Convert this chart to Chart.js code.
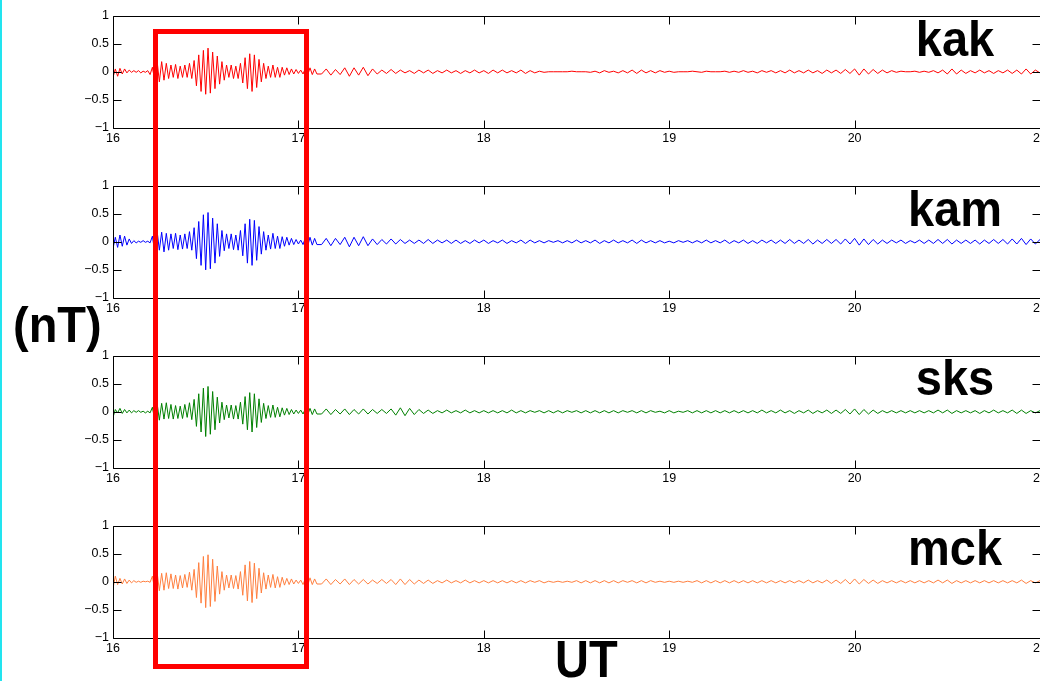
<!DOCTYPE html>
<html>
<head>
<meta charset="utf-8">
<script src="https://cdn.jsdelivr.net/npm/chart.js@4.4.1/dist/chart.umd.min.js"></script>
<style>
  html, body { margin:0; padding:0; background:#fff; width:1040px; height:681px; overflow:hidden; position:relative; }
  .panel { position:absolute; left:0; width:1080px; height:152px; }
  .lbl { position:absolute; font-family:"Liberation Sans", Arial, sans-serif; font-weight:bold; font-size:47px; line-height:47px; color:#000; white-space:nowrap; transform-origin:50% 85%; }
  #cyan { position:absolute; left:0; top:0; width:2px; height:681px; background:#22e4ef; }
  #box { position:absolute; left:153px; top:29px; width:156px; height:640px; border:5px solid #ff0000; box-sizing:border-box; }
</style>
</head>
<body>
<div id="cyan"></div>
<div class="panel" style="top:4px"><canvas id="c0" width="1080" height="152"></canvas></div>
<div class="panel" style="top:174px"><canvas id="c1" width="1080" height="152"></canvas></div>
<div class="panel" style="top:344px"><canvas id="c2" width="1080" height="152"></canvas></div>
<div class="panel" style="top:514px"><canvas id="c3" width="1080" height="152"></canvas></div>
<div id="box"></div>
<div class="lbl" style="left:955px; top:16px; transform:translateX(-50%) scaleY(1.08)">kak</div>
<div class="lbl" style="left:955px; top:186px; transform:translateX(-50%) scaleY(1.08)">kam</div>
<div class="lbl" style="left:955px; top:355px; transform:translateX(-50%) scaleY(1.08)">sks</div>
<div class="lbl" style="left:955px; top:525px; transform:translateX(-50%) scaleY(1.08)">mck</div>
<div class="lbl" style="left:13px; top:302px; transform:scaleY(1.08)">(nT)</div>
<div class="lbl" style="left:555px; top:637px; transform:scaleY(1.1)">UT</div>
<script>
// ---- data ----
const stations = ['kak', 'kam', 'sks', 'mck'];
const xTickValues = [16, 17, 18, 19, 20, 21];
const yTickValues = [-1, -0.5, 0, 0.5, 1];
// sampling of the traces (hours UT)
const activeStart = 16.0, activeStep = 0.0125;   // 16.0 .. 17.1
const quietStart = 17.1, quietStep = 0.025;      // 17.1 .. 21.0

const kakActive = [-0.10,0.05,-0.08,0.06,-0.04,0.05,-0.02,0.03,-0.01,0.02,
 -0.01,0.02,-0.02,0.01,-0.01,0.02,-0.05,0.08,-0.15,0.20,
 -0.18,0.18,-0.15,0.15,-0.12,0.12,-0.10,0.13,-0.12,0.10,
 -0.10,0.12,-0.10,0.15,-0.12,0.20,-0.25,0.30,-0.35,0.38,
 -0.40,0.42,-0.38,0.35,-0.30,0.28,-0.22,0.18,-0.15,0.12,
 -0.10,0.12,-0.12,0.10,-0.12,0.15,-0.20,0.25,-0.30,0.32,
 -0.35,0.30,-0.28,0.22,-0.18,0.15,-0.12,0.10,-0.10,0.12,
 -0.10,0.08,-0.10,0.08,-0.06,0.07,-0.05,0.05,-0.04,0.04,
 -0.03,0.03,-0.04,0.06,-0.06,0.07,-0.05,0.05,-0.04];
const kakQuiet = [0.05,-0.04,0.05,-0.06,0.04,-0.05,0.07,-0.08,0.07,-0.06,
 0.08,-0.07,0.05,-0.04,0.03,-0.03,0.04,-0.03,0.03,-0.02,
 0.02,-0.03,0.03,-0.02,0.03,-0.03,0.02,-0.02,0.03,-0.02,
 0.02,-0.03,0.02,-0.02,0.03,-0.02,0.02,-0.03,0.03,-0.02,
 0.03,-0.02,0.02,-0.02,0.03,-0.03,0.02,-0.02,0.01,-0.01,
 0.00,0.00,0.00,0.00,0.00,0.01,0.00,0.00,0.00,-0.01,
 0.01,-0.02,0.02,-0.01,0.01,-0.02,0.02,-0.02,0.03,-0.03,
 0.03,-0.02,0.02,-0.02,0.02,-0.01,0.01,-0.01,0.00,0.00,
 0.00,0.01,0.00,-0.01,0.01,0.00,0.00,0.00,0.01,-0.01,
 0.01,-0.01,0.02,-0.01,0.01,-0.02,0.02,-0.01,0.02,-0.02,
 0.02,-0.02,0.03,-0.02,0.02,-0.02,0.03,-0.02,0.02,-0.03,
 0.03,-0.02,0.03,-0.03,0.04,-0.03,0.05,-0.06,0.05,-0.04,
 0.04,-0.03,0.03,-0.02,0.02,-0.01,0.01,0.00,0.00,0.01,
 -0.01,0.01,-0.01,0.02,-0.02,0.03,-0.04,0.05,-0.04,0.03,
 -0.03,0.02,-0.02,0.03,-0.02,0.02,-0.03,0.02,-0.02,0.03,
 -0.03,0.03,-0.04,0.05,-0.04,0.03,-0.02];

const kamActive = [-0.12,0.08,-0.10,0.12,-0.08,0.10,-0.06,0.05,-0.03,0.02,
 -0.02,0.01,-0.01,0.02,-0.01,0.01,-0.02,0.10,-0.18,0.20,
 -0.15,0.17,-0.18,0.15,-0.15,0.14,-0.12,0.15,-0.14,0.12,
 -0.13,0.14,-0.12,0.18,-0.15,0.25,-0.30,0.36,-0.42,0.48,
 -0.50,0.52,-0.48,0.42,-0.38,0.32,-0.26,0.20,-0.16,0.14,
 -0.12,0.14,-0.14,0.12,-0.15,0.20,-0.25,0.32,-0.38,0.40,
 -0.42,0.38,-0.33,0.27,-0.22,0.18,-0.15,0.12,-0.13,0.15,
 -0.12,0.10,-0.12,0.09,-0.08,0.08,-0.06,0.06,-0.05,0.04,
 -0.04,0.03,-0.05,0.07,-0.08,0.08,-0.06,0.06,-0.05];
const kamQuiet = [0.06,-0.05,0.06,-0.07,0.06,-0.05,0.08,-0.09,0.08,-0.07,
 0.09,-0.07,0.05,-0.05,0.04,-0.04,0.05,-0.04,0.04,-0.03,
 0.03,-0.03,0.03,-0.03,0.04,-0.03,0.03,-0.02,0.03,-0.03,
 0.03,-0.03,0.02,-0.03,0.03,-0.02,0.03,-0.03,0.02,-0.02,
 0.03,-0.03,0.02,-0.02,0.03,-0.03,0.03,-0.02,0.02,-0.02,
 0.02,-0.01,0.02,-0.02,0.02,-0.02,0.03,-0.02,0.02,-0.02,
 0.03,-0.03,0.02,-0.02,0.03,-0.02,0.02,-0.02,0.03,-0.03,
 0.03,-0.02,0.02,-0.02,0.02,-0.02,0.01,-0.02,0.02,-0.01,
 0.02,-0.02,0.02,-0.02,0.03,-0.02,0.02,-0.02,0.03,-0.03,
 0.02,-0.02,0.03,-0.03,0.02,-0.03,0.03,-0.02,0.03,-0.03,
 0.03,-0.03,0.04,-0.03,0.03,-0.03,0.04,-0.04,0.03,-0.03,
 0.04,-0.03,0.04,-0.04,0.05,-0.04,0.06,-0.06,0.05,-0.05,
 0.04,-0.04,0.03,-0.03,0.03,-0.02,0.03,-0.03,0.02,-0.02,
 0.03,-0.03,0.03,-0.03,0.04,-0.03,0.04,-0.04,0.03,-0.03,
 0.03,-0.03,0.03,-0.04,0.03,-0.03,0.04,-0.03,0.04,-0.04,
 0.05,-0.04,0.06,-0.05,0.05,-0.04,0.04];

const sksActive = [-0.10,0.04,-0.02,0.06,-0.03,0.04,-0.02,0.03,-0.02,0.02,
 -0.01,0.02,-0.01,0.01,-0.02,0.01,-0.02,0.08,-0.14,0.16,
 -0.15,0.15,-0.13,0.16,-0.12,0.13,-0.13,0.11,-0.12,0.10,
 -0.12,0.13,-0.10,0.16,-0.14,0.22,-0.26,0.32,-0.36,0.42,
 -0.44,0.45,-0.40,0.36,-0.32,0.26,-0.20,0.17,-0.14,0.12,
 -0.11,0.12,-0.13,0.11,-0.13,0.17,-0.22,0.27,-0.32,0.34,
 -0.36,0.32,-0.28,0.23,-0.19,0.15,-0.12,0.11,-0.10,0.12,
 -0.10,0.08,-0.09,0.07,-0.06,0.06,-0.05,0.04,-0.04,0.03,
 -0.03,0.03,-0.04,0.05,-0.06,0.06,-0.05,0.05,-0.04];
const sksQuiet = [0.05,-0.04,0.05,-0.05,0.04,-0.04,0.05,-0.05,0.04,-0.04,
 0.05,-0.04,0.04,-0.03,0.04,-0.03,0.05,-0.06,0.07,-0.07,
 0.06,-0.05,0.04,-0.03,0.03,-0.03,0.02,-0.02,0.03,-0.02,
 0.02,-0.02,0.03,-0.02,0.02,-0.02,0.02,-0.02,0.02,-0.02,
 0.02,-0.02,0.03,-0.02,0.02,-0.02,0.02,-0.01,0.02,-0.02,
 0.02,-0.02,0.02,-0.02,0.02,-0.01,0.02,-0.02,0.02,-0.02,
 0.02,-0.02,0.02,-0.02,0.02,-0.02,0.02,-0.01,0.02,-0.02,
 0.02,-0.02,0.02,-0.01,0.01,-0.02,0.02,-0.02,0.01,-0.01,
 0.02,-0.02,0.02,-0.02,0.02,-0.02,0.02,-0.02,0.02,-0.02,
 0.02,-0.02,0.02,-0.02,0.02,-0.02,0.03,-0.02,0.02,-0.02,
 0.03,-0.02,0.02,-0.03,0.02,-0.02,0.03,-0.03,0.02,-0.02,
 0.03,-0.03,0.03,-0.03,0.04,-0.04,0.05,-0.05,0.04,-0.04,
 0.03,-0.03,0.02,-0.02,0.02,-0.02,0.02,-0.02,0.02,-0.02,
 0.02,-0.02,0.02,-0.02,0.03,-0.02,0.03,-0.03,0.02,-0.02,
 0.02,-0.02,0.02,-0.03,0.02,-0.02,0.03,-0.02,0.02,-0.02,
 0.03,-0.03,0.03,-0.03,0.02,-0.02,0.02];

const mckActive = [-0.12,0.10,-0.05,0.06,-0.04,0.05,-0.03,0.03,-0.02,0.02,
 -0.01,0.01,-0.01,0.01,0.00,0.01,-0.01,0.10,-0.15,0.18,
 -0.16,0.15,-0.15,0.16,-0.12,0.14,-0.12,0.12,-0.13,0.11,
 -0.11,0.13,-0.10,0.17,-0.15,0.22,-0.28,0.34,-0.38,0.45,
 -0.46,0.48,-0.44,0.40,-0.35,0.28,-0.22,0.18,-0.15,0.12,
 -0.11,0.12,-0.12,0.11,-0.13,0.18,-0.24,0.30,-0.34,0.36,
 -0.37,0.33,-0.30,0.24,-0.20,0.16,-0.13,0.12,-0.10,0.13,
 -0.11,0.09,-0.10,0.08,-0.06,0.06,-0.05,0.05,-0.04,0.03,
 -0.03,0.03,-0.05,0.06,-0.07,0.07,-0.05,0.05,-0.04];
const mckQuiet = [0.05,-0.04,0.05,-0.05,0.04,-0.04,0.05,-0.05,0.04,-0.04,
 0.04,-0.04,0.03,-0.03,0.04,-0.03,0.04,-0.05,0.05,-0.05,
 0.04,-0.04,0.03,-0.03,0.03,-0.03,0.02,-0.02,0.03,-0.02,
 0.02,-0.02,0.03,-0.02,0.02,-0.02,0.02,-0.02,0.02,-0.02,
 0.02,-0.02,0.02,-0.02,0.02,-0.02,0.02,-0.01,0.02,-0.02,
 0.01,-0.01,0.01,-0.01,0.01,-0.01,0.02,-0.02,0.02,-0.02,
 0.02,-0.02,0.02,-0.02,0.02,-0.02,0.02,-0.01,0.02,-0.02,
 0.02,-0.02,0.02,-0.01,0.01,-0.01,0.01,-0.01,0.01,-0.01,
 0.01,-0.01,0.02,-0.02,0.02,-0.02,0.02,-0.02,0.02,-0.02,
 0.02,-0.02,0.02,-0.02,0.02,-0.02,0.02,-0.02,0.02,-0.02,
 0.02,-0.02,0.02,-0.02,0.02,-0.02,0.03,-0.02,0.02,-0.02,
 0.03,-0.03,0.03,-0.03,0.04,-0.04,0.05,-0.04,0.04,-0.03,
 0.03,-0.03,0.02,-0.02,0.02,-0.02,0.02,-0.02,0.02,-0.02,
 0.02,-0.02,0.02,-0.02,0.03,-0.02,0.03,-0.03,0.02,-0.02,
 0.02,-0.02,0.02,-0.02,0.02,-0.02,0.02,-0.02,0.02,-0.02,
 0.02,-0.02,0.03,-0.03,0.02,-0.02,0.02];

const seriesActive = [kakActive, kamActive, sksActive, mckActive];
const seriesQuiet = [kakQuiet, kamQuiet, sksQuiet, mckQuiet];
const seriesColors = ['#ff0000', '#0000ff', '#008000', '#ff7f3f'];

// ---- build points (x from the sampling grid, y from the arrays) ----
function buildPoints(active, quiet) {
  const pts = [];
  active.forEach((v, i) => pts.push({ x: activeStart + i * activeStep, y: v }));
  quiet.forEach((v, j) => { if (j > 0) pts.push({ x: quietStart + j * quietStep, y: v }); });
  return pts;
}

const tickFont = { family: '"Liberation Sans", Arial, sans-serif', size: 12.5 };
const fmt = v => (v < 0 ? '\u2212' + Math.abs(v) : String(v));

const framePlugin = {
  id: 'matlabFrame',
  afterDraw(chart) {
    const { ctx, chartArea: a, scales } = chart;
    const L = 8;
    ctx.save();
    ctx.strokeStyle = '#000';
    ctx.lineWidth = 1;
    ctx.beginPath();
    const l = Math.round(a.left) + 0.5, r = Math.round(a.right) + 0.5;
    const t = Math.round(a.top) + 0.5, b = Math.round(a.bottom) + 0.5;
    ctx.moveTo(l, t); ctx.lineTo(r, t); ctx.lineTo(r, b); ctx.lineTo(l, b); ctx.closePath();
    xTickValues.forEach(v => {
      const px = Math.round(scales.x.getPixelForValue(v)) + 0.5;
      ctx.moveTo(px, b); ctx.lineTo(px, b - L);
      ctx.moveTo(px, t); ctx.lineTo(px, t + L);
    });
    yTickValues.forEach(v => {
      const py = Math.round(scales.y.getPixelForValue(v)) + 0.5;
      ctx.moveTo(l, py); ctx.lineTo(l + L, py);
      ctx.moveTo(r, py); ctx.lineTo(r - L, py);
    });
    ctx.stroke();
    ctx.restore();
  }
};

stations.forEach((name, k) => {
  new Chart(document.getElementById('c' + k), {
    type: 'line',
    data: {
      datasets: [{
        label: name,
        data: buildPoints(seriesActive[k], seriesQuiet[k]),
        borderColor: seriesColors[k],
        borderWidth: 1,
        pointRadius: 0,
        tension: 0,
        fill: false
      }]
    },
    options: {
      responsive: false,
      animation: false,
      devicePixelRatio: 1,
      layout: { padding: { top: 10, left: 0, right: 40, bottom: 0 } },
      plugins: { legend: { display: false }, tooltip: { enabled: false } },
      scales: {
        x: {
          type: 'linear', min: 16, max: 21,
          afterBuildTicks: s => { s.ticks = xTickValues.map(v => ({ value: v })); },
          afterFit: s => { s.height = 28; },
          grid: { display: false, drawTicks: false },
          border: { display: false },
          ticks: { padding: 3, color: '#000', font: tickFont, maxRotation: 0, autoSkip: false, callback: v => String(v) }
        },
        y: {
          type: 'linear', min: -1, max: 1,
          afterBuildTicks: s => { s.ticks = yTickValues.map(v => ({ value: v })); },
          afterFit: s => { s.width = 113; },
          grid: { display: false, drawTicks: false },
          border: { display: false },
          ticks: { padding: 4, color: '#000', font: tickFont, autoSkip: false, callback: fmt }
        }
      }
    },
    plugins: [framePlugin]
  });
});
</script>
</body>
</html>
